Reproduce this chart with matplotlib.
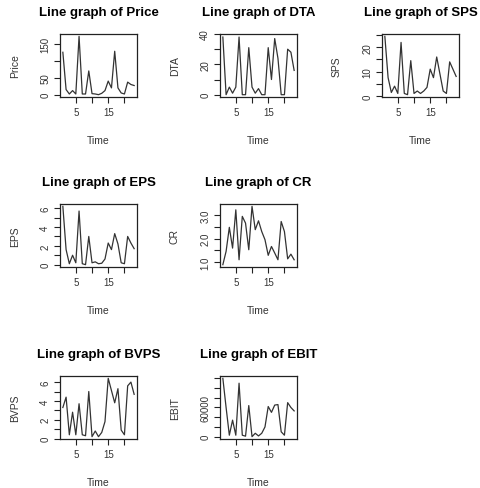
import matplotlib
matplotlib.use('Agg')
import matplotlib.pyplot as plt
import numpy as np

plt.rcParams['font.family'] = ['Liberation Sans', 'DejaVu Sans']

time = np.arange(1, 24)

price = [125, 15, 2, 12, 2, 172, 2, 2, 70, 3, 2, 0, 4, 12, 40, 20, 128, 20, 5, 2, 37, 30, 27]
dta = [38, 0, 5, 1, 5, 38, 0, 0, 31, 5, 1, 4, 0, 0, 31, 10, 37, 24, 0, 0, 30, 28, 16]
sps = [24.5, 7.5, 1.4, 4, 1, 22, 1, 0.5, 14.5, 1, 2, 1, 2, 3.5, 11, 7.5, 16, 9, 2, 1, 14, 11, 8]
eps = [6.2, 1.6, 0.1, 1.0, 0.2, 5.7, 0.1, 0.0, 3.0, 0.2, 0.3, 0.1, 0.15, 0.6, 2.3, 1.6, 3.3, 2.2, 0.2, 0.1, 3.0, 2.3, 1.7]
cr = [0.89, 1.46, 2.49, 1.6, 3.24, 1.1, 2.96, 2.67, 1.53, 3.39, 2.39, 2.77, 2.31, 1.96, 1.29, 1.67, 1.39, 1.1, 2.74, 2.31, 1.14, 1.34, 1.1]
bvps = [3.3, 4.4, 0.4, 2.8, 0.4, 3.7, 0.4, 0.3, 5.0, 0.2, 0.8, 0.2, 0.65, 1.8, 6.4, 5.1, 3.8, 5.3, 0.9, 0.4, 5.6, 6.0, 4.7]
ebit = [120000, 60000, 3000, 34000, 3000, 110000, 3000, 1000, 64000, 0, 7000, 1500, 7000, 20000,
        62000, 50000, 65000, 66000, 10000, 3000, 70000, 60000, 53000]

# name, values, y ticks, which ticks get a label, (row, col)
panels = [
    ('Price', price, [0, 50, 100, 150], ['0', '50', '', '150'], (0, 0)),
    ('DTA', dta, [0, 10, 20, 30, 40], ['0', '', '20', '', '40'], (0, 1)),
    ('SPS', sps, [0, 5, 10, 15, 20, 25], ['0', '', '10', '', '20', ''], (0, 2)),
    ('EPS', eps, [0, 1, 2, 3, 4, 5, 6], ['0', '', '2', '', '4', '', '6'], (1, 0)),
    ('CR', cr, [1.0, 1.5, 2.0, 2.5, 3.0], ['1.0', '', '2.0', '', '3.0'], (1, 1)),
    ('BVPS', bvps, [0, 1, 2, 3, 4, 5, 6], ['0', '', '2', '', '4', '', '6'], (2, 0)),
    ('EBIT', ebit, [0, 20000, 40000, 60000, 80000, 100000, 120000],
     ['0', '', '', '60000', '', '', ''], (2, 1)),
]

W, H = 480, 489
fig = plt.figure(figsize=(W / 100, H / 100), dpi=100)

col_left = [60, 220, 382]
row_top = [35, 205, 377]
box_w, box_h = 77, 63

for name, vals, yt, ytl, (r, c) in panels:
    x0, y0 = col_left[c], row_top[r]
    ax = fig.add_axes([x0 / W, 1 - (y0 + box_h) / H, box_w / W, box_h / H])
    ax.plot(time, vals, color='#333333', lw=0.9)
    # R style 4% padding
    ax.set_xlim(1 - 0.04 * 22, 23 + 0.04 * 22)
    lo, hi = min(vals), max(vals)
    pad = 0.04 * (hi - lo)
    ax.set_ylim(lo - pad, hi + pad)
    ax.set_xticks([5, 10, 15, 20])
    ax.set_xticklabels(['5', '', '15', ''], fontsize=7)
    ax.set_yticks(yt)
    ax.set_yticklabels(ytl, fontsize=7, rotation=90, va='center')
    ax.tick_params(direction='out', length=4, width=0.8, pad=3, colors='#222222')
    ax.tick_params(labelcolor='#333333')
    for s in ax.spines.values():
        s.set_linewidth(0.9)
        s.set_color('#222222')
    cx = x0 + box_w / 2
    fig.text(cx / W, 1 - (y0 - 22) / H, 'Line graph of ' + name,
             ha='center', va='center', fontsize=9.5, fontweight='bold')
    fig.text(cx / W, 1 - (y0 + box_h + 43) / H, 'Time',
             ha='center', va='center', fontsize=7.5, color='#333333')
    fig.text((x0 - 45) / W, 1 - (y0 + box_h / 2) / H, name,
             ha='center', va='center', fontsize=7.5, rotation=90, color='#333333')

fig.savefig('out.png', dpi=100)
